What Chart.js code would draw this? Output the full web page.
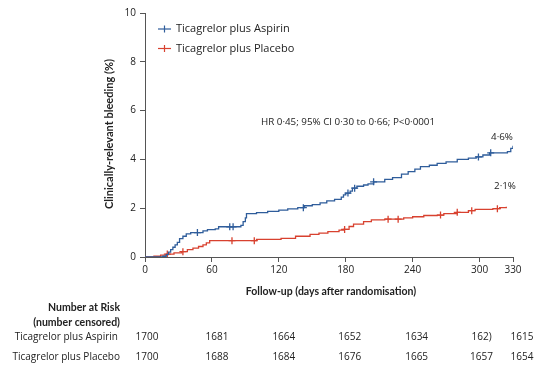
<!DOCTYPE html>
<html><head><meta charset="utf-8">
<script src="https://cdn.jsdelivr.net/npm/chart.js@4/dist/chart.umd.min.js"></script>
<style>html,body{margin:0;padding:0;background:#fff}#wrap{width:559px;height:372px;position:relative}</style>
</head><body><div id="wrap"><canvas id="c" width="559" height="372"></canvas></div>
<script>
// ---- data ----
const seriesNames = ["Ticagrelor plus Aspirin", "Ticagrelor plus Placebo"];
const aspirinDays = [0,16,19,21,23,25,27,29,31,34,37,41,52,56,63,66,86,88,90,91,100,110,120,128,137,143,150,157,163,170,176,178,180,184,186,190,196,200,205,215,222,230,236,242,247,255,262,270,280,290,297,303,309,325,328,330];
const aspirinVals = [0,0.03,0.1,0.2,0.3,0.4,0.5,0.6,0.75,0.85,0.95,1.0,1.07,1.12,1.15,1.24,1.3,1.45,1.6,1.78,1.82,1.87,1.92,1.97,2.02,2.1,2.15,2.22,2.3,2.36,2.45,2.55,2.62,2.7,2.82,2.9,2.95,3.0,3.08,3.18,3.25,3.4,3.5,3.6,3.7,3.76,3.84,3.9,4.0,4.05,4.1,4.18,4.27,4.32,4.45,4.56];
const placeboDays = [0,8,14,19,26,33,38,43,48,52,55,58,100,122,135,148,156,164,174,178,183,187,196,203,215,232,240,250,262,268,280,290,296,312,318,324];
const placeboVals = [0,0.03,0.08,0.12,0.17,0.22,0.3,0.36,0.43,0.5,0.58,0.67,0.72,0.76,0.85,0.93,0.98,1.04,1.1,1.13,1.25,1.35,1.45,1.52,1.55,1.6,1.65,1.7,1.72,1.78,1.83,1.9,1.95,1.98,2.02,2.06];
const aspirinCensorDays = [47,76,79,142,182,188,205,299,310];
const placeboCensorDays = [20,34,78,98,179,218,227,265,280,293,316];
const xTicks = [0,60,120,180,240,300,330];
const yTicks = [0,2,4,6,8,10];
const riskAspirin = ["1700","1681","1664","1652","1634","162)","1615"];
const riskPlacebo = ["1700","1688","1684","1676","1665","1657","1654"];
const endLabels = ["4·6%","2·1%"];
const hrText = "HR 0·45; 95% CI 0·30 to 0·66; P<0·0001";
const yTitle = "Clinically-relevant bleeding (%)";
const xTitle = "Follow-up (days after randomisation)";

const BLUE = '#2f5d9b', RED = '#d8412f', AX = '#555';
const FONT = "'Open Sans', 'Noto Sans', sans-serif";
const BFONT = "Lato, 'Open Sans', sans-serif";

function pts(d, v){ return d.map((x,i)=>({x:x,y:v[i]})); }
function stepAt(d, v, t){ let y=v[0]; for(let i=0;i<d.length;i++){ if(d[i]<=t) y=v[i]; } return y; }
function censor(d, v, c){ return c.map(t=>({x:t,y:stepAt(d,v,t)})); }

const extras = {
  id:'extras',
  afterDraw(chart){
    const ctx = chart.ctx, xs = chart.scales.x, ys = chart.scales.y;
    ctx.save();
    // legend
    const leg = [[BLUE,29],[RED,48.5]];
    leg.forEach((l,i)=>{
      ctx.strokeStyle=l[0]; ctx.lineWidth=1.2;
      ctx.beginPath(); ctx.moveTo(158,l[1]); ctx.lineTo(171,l[1]); ctx.stroke();
      ctx.beginPath(); ctx.moveTo(164.5,l[1]-3.5); ctx.lineTo(164.5,l[1]+3.5); ctx.stroke();
      ctx.fillStyle='#222'; ctx.font="500 11px "+FONT; ctx.textAlign='left'; ctx.textBaseline='middle';
      ctx.fillText(seriesNames[i],176,l[1]);
    });
    // HR text
    ctx.font="9.8px "+FONT; ctx.fillStyle='#222'; ctx.textAlign='left';
    ctx.fillText(hrText,261,122.5);
    // end labels
    ctx.textAlign='center';
    ctx.fillText(endLabels[0],502,137);
    ctx.fillText(endLabels[1],505,186.5);
    // y title
    ctx.save();
    ctx.translate(109,134); ctx.rotate(-Math.PI/2);
    ctx.font="bold 11px "+BFONT; ctx.textAlign='center';
    ctx.fillText(yTitle,0,0);
    ctx.restore();
    // x title
    ctx.font="bold 10.5px "+BFONT; ctx.textAlign='center';
    ctx.fillText(xTitle,331,292);
    // risk table
    ctx.textAlign='right';
    ctx.fillText("Number at Risk",120,308);
    ctx.fillText("(number censored)",120,322.5);
    ctx.font="10px "+FONT;
    ctx.fillText(seriesNames[0],118,337.5);
    ctx.fillText(seriesNames[1],120,357.5);
    ctx.textAlign='center';
    const offs=[2,5,5,4,4,2,9];
    xTicks.forEach((t,i)=>{
      const px = xs.getPixelForValue(t)+offs[i];
      ctx.fillText(riskAspirin[i],px,337.5);
      ctx.fillText(riskPlacebo[i],px,357.5);
    });
    ctx.restore();
  }
};

new Chart(document.getElementById('c'), {
  type:'line',
  data:{datasets:[
    {label:seriesNames[0], data:pts(aspirinDays,aspirinVals), borderColor:BLUE, borderWidth:1.3, stepped:true, pointRadius:0, fill:false},
    {label:seriesNames[1], data:pts(placeboDays,placeboVals), borderColor:RED, borderWidth:1.3, stepped:true, pointRadius:0, fill:false},
    {label:'c1', data:censor(aspirinDays,aspirinVals,aspirinCensorDays), showLine:false, pointStyle:'cross', pointRadius:3.5, borderColor:BLUE, pointBorderWidth:1.3},
    {label:'c2', data:censor(placeboDays,placeboVals,placeboCensorDays), showLine:false, pointStyle:'cross', pointRadius:3.5, borderColor:RED, pointBorderWidth:1.3}
  ]},
  options:{
    responsive:false, animation:false, devicePixelRatio:1,
    layout:{padding:{top:13,right:46,bottom:0,left:0}},
    plugins:{legend:{display:false}, tooltip:{enabled:false}},
    scales:{
      x:{type:'linear', min:0, max:330,
        grid:{display:true, drawOnChartArea:false, drawTicks:true, tickLength:5, color:AX},
        border:{display:true,color:AX,width:1},
        ticks:{color:'#222', font:{size:10, family:FONT}, padding:2, autoSkip:false, maxRotation:0},
        afterBuildTicks(s){ s.ticks = xTicks.map(v=>({value:v})); },
        afterFit(s){ s.height = 115; }
      },
      y:{min:0, max:10,
        grid:{display:true, drawOnChartArea:false, drawTicks:true, tickLength:5, color:AX},
        border:{display:true,color:AX,width:1},
        ticks:{color:'#222', font:{size:10, family:FONT}, padding:4},
        afterBuildTicks(s){ s.ticks = yTicks.map(v=>({value:v})); },
        afterFit(s){ s.width = 145; }
      }
    }
  },
  plugins:[extras]
});
</script></body></html>
